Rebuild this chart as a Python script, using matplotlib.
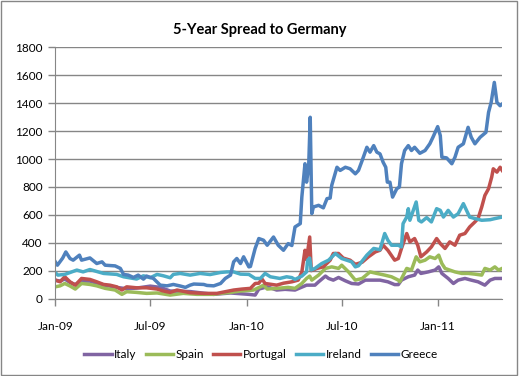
# spread_to_germany.py

import numpy as np
import pandas as pd
import matplotlib
matplotlib.use("Agg")
from matplotlib import pyplot as plt
import matplotlib.dates as mdates
from matplotlib.patches import Rectangle


greece_dates = [
    "2009-01-01", "2009-01-05", "2009-01-15", "2009-01-21", "2009-01-29",
    "2009-02-04", "2009-02-16", "2009-02-20", "2009-03-08", "2009-03-21",
    "2009-03-31", "2009-04-06", "2009-04-25", "2009-05-05", "2009-05-11",
    "2009-05-20", "2009-05-30", "2009-06-08", "2009-06-18", "2009-06-24",
    "2009-07-07", "2009-07-20", "2009-08-02", "2009-08-14", "2009-08-27",
    "2009-09-06", "2009-09-15", "2009-09-22", "2009-10-11", "2009-10-17",
    "2009-10-30", "2009-11-12", "2009-11-21", "2009-12-01", "2009-12-07",
    "2009-12-13", "2009-12-20", "2009-12-26", "2010-01-05", "2010-01-08",
    "2010-01-17", "2010-01-24", "2010-02-02", "2010-02-09", "2010-02-21",
    "2010-03-02", "2010-03-12", "2010-03-21", "2010-03-28", "2010-04-03",
    "2010-04-13", "2010-04-16", "2010-04-22", "2010-04-25", "2010-04-29",
    "2010-05-02", "2010-05-05", "2010-05-08", "2010-05-18", "2010-05-27",
    "2010-06-03", "2010-06-09", "2010-06-12", "2010-06-22", "2010-06-28",
    "2010-07-08", "2010-07-17", "2010-07-27", "2010-08-02", "2010-08-09",
    "2010-08-18", "2010-08-24", "2010-08-31", "2010-09-06", "2010-09-12",
    "2010-09-18", "2010-09-23", "2010-09-26", "2010-10-01", "2010-10-06",
    "2010-10-14", "2010-10-19", "2010-10-23", "2010-10-29", "2010-11-05",
    "2010-11-11", "2010-11-17", "2010-11-27", "2010-12-07", "2010-12-16",
    "2010-12-22", "2010-12-31", "2011-01-05", "2011-01-08", "2011-01-17",
    "2011-01-27", "2011-02-02", "2011-02-08", "2011-02-18", "2011-02-27",
    "2011-03-05", "2011-03-12", "2011-03-22", "2011-04-02", "2011-04-07",
    "2011-04-12", "2011-04-18", "2011-04-23", "2011-04-29", "2011-05-03",
]
greece = [
    263, 239, 290, 334, 287, 275, 311, 275, 291, 251,
    263, 239, 234, 216, 173, 168, 151, 168, 139, 161,
    144, 96, 91, 101, 90, 80, 96, 104, 101, 94,
    91, 108, 144, 168, 263, 287, 251, 299, 227, 230,
    359, 430, 418, 382, 441, 382, 346, 394, 380, 513,
    537, 727, 966, 834, 941, 1299, 609, 656, 668, 650,
    716, 720, 811, 941, 918, 941, 930, 894, 918, 989,
    1084, 1049, 1096, 1049, 1037, 977, 941, 834, 834, 727,
    787, 799, 966, 1061, 1096, 1061, 1084, 1041, 1061, 1109,
    1156, 1232, 1168, 1013, 1008, 966, 1013, 1084, 1109, 1227,
    1156, 1109, 1156, 1191, 1334, 1406, 1549, 1406, 1382, 1394,
]

ireland_dates = [
    "2009-01-01", "2009-01-06", "2009-01-19", "2009-02-11", "2009-02-23",
    "2009-03-08", "2009-04-03", "2009-04-28", "2009-05-11", "2009-06-05",
    "2009-06-18", "2009-07-01", "2009-07-14", "2009-07-26", "2009-08-08",
    "2009-08-14", "2009-08-27", "2009-09-15", "2009-10-04", "2009-10-23",
    "2009-11-12", "2009-11-24", "2009-12-07", "2009-12-20", "2010-01-05",
    "2010-01-17", "2010-01-27", "2010-02-05", "2010-02-15", "2010-03-05",
    "2010-03-18", "2010-03-28", "2010-04-03", "2010-04-16", "2010-04-25",
    "2010-04-27", "2010-05-01", "2010-05-04", "2010-05-11", "2010-05-24",
    "2010-06-06", "2010-06-19", "2010-07-01", "2010-07-20", "2010-07-27",
    "2010-08-02", "2010-08-18", "2010-08-31", "2010-09-12", "2010-09-21",
    "2010-09-27", "2010-10-04", "2010-10-17", "2010-10-23", "2010-10-26",
    "2010-11-02", "2010-11-05", "2010-11-08", "2010-11-20", "2010-11-25",
    "2010-11-30", "2010-12-10", "2010-12-19", "2010-12-29", "2011-01-05",
    "2011-01-11", "2011-01-20", "2011-01-30", "2011-02-08", "2011-02-18",
    "2011-02-24", "2011-03-02", "2011-03-12", "2011-03-25", "2011-04-10",
    "2011-04-19", "2011-05-03",
]
ireland = [
    185, 168, 173, 204, 191, 208, 180, 173, 156, 140,
    163, 149, 173, 163, 149, 173, 180, 168, 180, 172,
    187, 191, 191, 175, 173, 144, 144, 180, 156, 144,
    156, 150, 137, 161, 191, 275, 290, 204, 216, 251,
    275, 323, 287, 263, 227, 235, 311, 359, 350, 466,
    418, 382, 382, 370, 537, 584, 644, 561, 692, 561,
    549, 580, 549, 644, 632, 584, 632, 584, 608, 680,
    632, 584, 573, 561, 565, 573, 584,
]

portugal_dates = [
    "2009-01-01", "2009-01-10", "2009-01-19", "2009-01-29", "2009-02-08",
    "2009-02-20", "2009-03-08", "2009-03-21", "2009-04-03", "2009-04-15",
    "2009-04-28", "2009-05-08", "2009-05-17", "2009-06-05", "2009-06-24",
    "2009-07-14", "2009-07-26", "2009-08-08", "2009-08-21", "2009-09-15",
    "2009-10-11", "2009-11-05", "2009-11-21", "2009-12-07", "2009-12-23",
    "2010-01-08", "2010-01-17", "2010-01-24", "2010-01-30", "2010-02-05",
    "2010-02-27", "2010-03-12", "2010-03-28", "2010-04-09", "2010-04-16",
    "2010-04-22", "2010-04-25", "2010-05-01", "2010-05-04", "2010-05-15",
    "2010-05-27", "2010-06-09", "2010-06-15", "2010-06-25", "2010-07-04",
    "2010-07-17", "2010-07-27", "2010-08-09", "2010-08-21", "2010-09-03",
    "2010-09-12", "2010-09-18", "2010-09-27", "2010-10-10", "2010-10-17",
    "2010-10-23", "2010-11-02", "2010-11-08", "2010-11-17", "2010-11-23",
    "2010-11-29", "2010-12-10", "2010-12-19", "2010-12-29", "2011-01-05",
    "2011-01-14", "2011-01-23", "2011-02-02", "2011-02-11", "2011-02-21",
    "2011-03-02", "2011-03-12", "2011-03-18", "2011-03-25", "2011-03-31",
    "2011-04-07", "2011-04-13", "2011-04-16", "2011-04-23", "2011-04-29",
    "2011-05-03",
]
portugal = [
    132, 120, 156, 120, 96, 144, 137, 120, 101, 96,
    84, 61, 84, 77, 77, 68, 54, 44, 61, 42,
    37, 37, 49, 61, 68, 73, 108, 110, 140, 108,
    96, 110, 120, 132, 190, 346, 280, 441, 200, 216,
    227, 275, 323, 323, 290, 275, 245, 260, 299, 334,
    346, 382, 346, 275, 287, 359, 466, 406, 430, 382,
    299, 334, 370, 430, 394, 359, 406, 382, 454, 466,
    513, 549, 573, 656, 739, 787, 870, 930, 906, 941,
    918,
]

spain_dates = [
    "2009-01-01", "2009-01-10", "2009-01-19", "2009-01-29", "2009-02-08",
    "2009-02-20", "2009-03-08", "2009-03-21", "2009-04-06", "2009-04-25",
    "2009-05-08", "2009-05-17", "2009-06-05", "2009-06-24", "2009-07-14",
    "2009-08-08", "2009-09-02", "2009-09-28", "2009-10-30", "2009-11-12",
    "2009-12-01", "2009-12-20", "2010-01-14", "2010-01-27", "2010-02-02",
    "2010-02-09", "2010-03-12", "2010-03-21", "2010-04-03", "2010-04-16",
    "2010-04-25", "2010-05-01", "2010-05-05", "2010-05-18", "2010-05-31",
    "2010-06-12", "2010-06-25", "2010-07-01", "2010-07-14", "2010-07-27",
    "2010-08-09", "2010-08-24", "2010-09-06", "2010-09-21", "2010-10-04",
    "2010-10-17", "2010-10-20", "2010-11-02", "2010-11-11", "2010-11-20",
    "2010-11-27", "2010-12-07", "2010-12-16", "2010-12-26", "2011-01-02",
    "2011-01-08", "2011-01-14", "2011-01-23", "2011-02-02", "2011-02-15",
    "2011-02-27", "2011-03-12", "2011-03-25", "2011-03-31", "2011-04-10",
    "2011-04-19", "2011-04-26", "2011-05-03",
]
spain = [
    84, 91, 108, 90, 68, 108, 101, 91, 73, 61,
    30, 49, 44, 37, 40, 25, 37, 30, 30, 37,
    44, 54, 61, 84, 96, 68, 77, 80, 73, 108,
    144, 161, 132, 168, 216, 227, 216, 239, 191, 132,
    144, 191, 180, 168, 156, 132, 120, 216, 204, 299,
    263, 275, 299, 287, 311, 251, 216, 204, 191, 180,
    180, 175, 168, 216, 204, 227, 204, 216,
]

italy_dates = [
    "2009-01-01", "2009-01-10", "2009-01-19", "2009-01-29", "2009-02-08",
    "2009-02-20", "2009-03-08", "2009-03-21", "2009-04-06", "2009-04-28",
    "2009-05-17", "2009-06-05", "2009-07-01", "2009-07-20", "2009-08-08",
    "2009-09-15", "2009-10-30", "2009-12-01", "2010-01-05", "2010-01-17",
    "2010-01-24", "2010-02-09", "2010-02-27", "2010-03-15", "2010-04-03",
    "2010-04-13", "2010-04-25", "2010-05-11", "2010-05-18", "2010-05-31",
    "2010-06-06", "2010-06-15", "2010-06-25", "2010-07-08", "2010-07-20",
    "2010-08-02", "2010-08-15", "2010-08-28", "2010-09-12", "2010-09-27",
    "2010-10-10", "2010-10-17", "2010-10-23", "2010-11-05", "2010-11-17",
    "2010-11-23", "2010-11-29", "2010-12-13", "2010-12-26", "2011-01-02",
    "2011-01-08", "2011-01-20", "2011-01-30", "2011-02-08", "2011-02-21",
    "2011-03-05", "2011-03-18", "2011-03-31", "2011-04-10", "2011-04-19",
    "2011-05-03",
]
italy = [
    132, 125, 140, 115, 100, 125, 125, 110, 95, 80,
    70, 75, 89, 80, 54, 50, 30, 40, 30, 25,
    68, 84, 61, 66, 61, 77, 96, 96, 120, 161,
    144, 132, 151, 127, 108, 104, 132, 132, 132, 120,
    100, 100, 132, 156, 168, 204, 180, 191, 204, 227,
    180, 144, 108, 132, 144, 132, 120, 96, 132, 144,
    144,
]

series = [
    ("Italy", italy_dates, italy, "#8064A2"),
    ("Spain", spain_dates, spain, "#9BBB59"),
    ("Portugal", portugal_dates, portugal, "#C0504D"),
    ("Ireland", ireland_dates, ireland, "#4BACC6"),
    ("Greece", greece_dates, greece, "#4F81BD"),
]

x_ticks = ["2009-01-01", "2009-07-01", "2010-01-01", "2010-07-01", "2011-01-01"]
y_ticks = np.arange(0, 1801, 200)


def main():
    plt.rcParams["font.family"] = ["Lato", "DejaVu Sans"]

    fig = plt.figure(figsize=(5.19, 3.76), dpi=100)
    ax = fig.add_axes([0.1066, 0.206, 0.861, 0.668])

    for name, dates, values, color in series:
        ax.plot(pd.to_datetime(dates), values, color=color, lw=2.5,
                label=name, solid_joinstyle="round")

    ax.set_ylim(0, 1800)
    ax.set_yticks(y_ticks)
    ax.set_xlim(pd.Timestamp("2009-01-01"), pd.Timestamp("2011-05-03"))
    ax.set_xticks(pd.to_datetime(x_ticks))
    ax.xaxis.set_major_formatter(mdates.DateFormatter("%b-%y"))

    ax.grid(axis="y", color="#868686", lw=1)
    ax.set_axisbelow(True)
    for side in ["top", "right"]:
        ax.spines[side].set_visible(False)
    for side in ["left", "bottom"]:
        ax.spines[side].set_color("#868686")
    ax.tick_params(axis="y", length=5, width=1, color="#868686", pad=4,
                   labelsize=8.5)
    ax.tick_params(axis="x", length=5, width=1, color="#868686", pad=11,
                   labelsize=8.5)

    fig.suptitle("5-Year Spread to Germany", fontsize=10.5,
                 fontweight="bold", y=0.94)

    fig.legend(loc="center", bbox_to_anchor=(0.503, 0.058), ncol=5,
               frameon=False, fontsize=8.5, handlelength=2.3,
               handletextpad=0.2, columnspacing=0.8)

    fig.patches.append(Rectangle((0.002, 0.003), 0.995, 0.994,
                                 transform=fig.transFigure, fill=False,
                                 edgecolor="#868686", lw=1))

    fig.savefig("out.png", dpi=100)


if __name__ == "__main__":
    main()
